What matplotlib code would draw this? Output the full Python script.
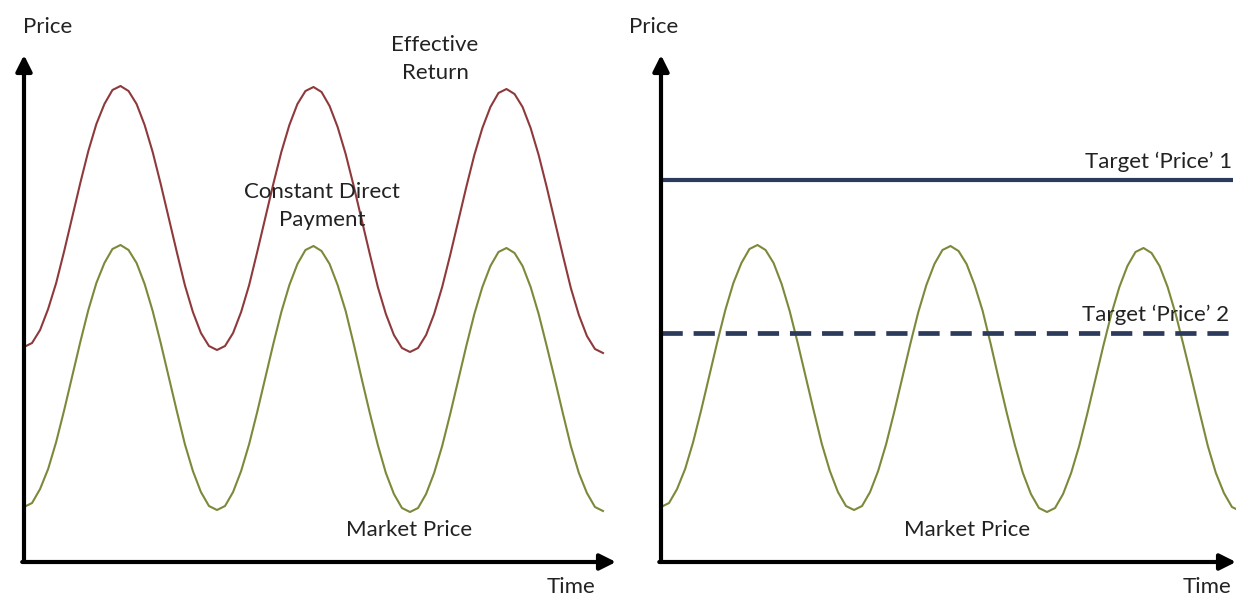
import matplotlib
matplotlib.use('Agg')
import matplotlib.pyplot as plt
import numpy as np

plt.rcParams['font.family'] = ['Lato', 'DejaVu Sans']

# time in "cycles" of the market price, sampled every 1/24 of a cycle
time = np.arange(73) / 24

market_price = [
    5.5, 5.9, 7.3, 9.3, 12.0, 15.2, 18.6, 22.0, 25.2, 27.9, 29.9, 31.3, 31.7,
    31.2, 29.9, 27.8, 25.1, 21.9, 18.5, 15.1, 11.8, 9.1, 7.0, 5.6, 5.2,
    5.6, 7.0, 9.1, 11.8, 15.0, 18.4, 21.8, 25.0, 27.7, 29.8, 31.2, 31.6,
    31.1, 29.8, 27.7, 25.1, 21.8, 18.3, 14.9, 11.7, 8.9, 6.8, 5.4, 5.0,
    5.4, 6.8, 8.9, 11.6, 14.8, 18.2, 21.6, 24.8, 27.5, 29.6, 31.0, 31.4,
    30.9, 29.6, 27.5, 24.8, 21.6, 18.3, 14.9, 11.6, 8.9, 6.9, 5.5, 5.1,
]

effective_return = [
    21.5, 21.9, 23.2, 25.3, 27.9, 31.1, 34.5, 37.9, 41.1, 43.8, 45.8, 47.2, 47.6,
    47.1, 45.8, 43.7, 41.0, 37.8, 34.4, 31.0, 27.7, 25.0, 22.9, 21.6, 21.2,
    21.6, 22.9, 25.0, 27.7, 31.0, 34.4, 37.8, 41.0, 43.7, 45.8, 47.1, 47.5,
    47.0, 45.6, 43.5, 40.8, 37.6, 34.2, 30.8, 27.5, 24.8, 22.7, 21.4, 21.0,
    21.4, 22.7, 24.8, 27.5, 30.7, 34.1, 37.5, 40.7, 43.4, 45.5, 46.9, 47.3,
    46.8, 45.5, 43.4, 40.7, 37.5, 34.1, 30.7, 27.4, 24.7, 22.6, 21.3, 20.9,
]

target_price_1 = 38.2
target_price_2 = 22.9

RED = '#8e3a3c'
GREEN = '#7b8a3a'
NAVY = '#2c3b5c'
TEXT = '#222222'

W, H = 1236, 597
fig = plt.figure(figsize=(W / 100, H / 100), dpi=100)
fig.patch.set_facecolor('white')


def px_axes(x0, x1, y_top, y_bot):
    return fig.add_axes([x0 / W, (H - y_bot) / H, (x1 - x0) / W, (y_bot - y_top) / H])


def draw_axes_arrows(ax):
    props = dict(arrowstyle='-|>', lw=3, color='black', mutation_scale=24,
                 shrinkA=0, shrinkB=0)
    ax.annotate('', xy=(0, 1), xytext=(0, 0), xycoords='axes fraction',
                arrowprops=props, annotation_clip=False)
    ax.annotate('', xy=(1, 0), xytext=(-0.003, 0), xycoords='axes fraction',
                arrowprops=props, annotation_clip=False)


# ---- left panel: market price + constant direct payment
ax1 = px_axes(24, 616, 55, 562)
ax1.set_xlim(0, 592 / 193)
ax1.set_ylim(0, 50.7)
ax1.axis('off')
ax1.plot(time, effective_return, color=RED, lw=1.5)
ax1.plot(time, market_price, color=GREEN, lw=1.5)
draw_axes_arrows(ax1)

fs = 16
ax1.text(0.12, 53.5, 'Price', ha='center', va='center', fontsize=fs, color=TEXT)
ax1.text(2.13, 50.3, 'Effective\nReturn', ha='center', va='center', fontsize=fs,
         color=TEXT, linespacing=1.45)
ax1.text(1.545, 35.6, 'Constant Direct\nPayment', ha='center', va='center', fontsize=fs,
         color=TEXT, linespacing=1.45)
ax1.text(1.995, 3.2, 'Market Price', ha='center', va='center', fontsize=fs, color=TEXT)
ax1.text(2.835, -2.5, 'Time', ha='center', va='center', fontsize=fs, color=TEXT)

# ---- right panel: market price vs target prices
ax2 = px_axes(661, 1236, 55, 562)
ax2.set_xlim(0, 575 / 193)
ax2.set_ylim(0, 50.7)
ax2.axis('off')
ax2.plot(time, market_price, color=GREEN, lw=1.5)
ax2.hlines(target_price_1, 0, 2.965, color=NAVY, lw=3)
ax2.hlines(target_price_2, 0, 2.965, color=NAVY, lw=3.4, linestyles=(0, (4.5, 2.3)))
draw_axes_arrows(ax2)

ax2.text(-0.036, 53.5, 'Price', ha='center', va='center', fontsize=fs, color=TEXT)
ax2.text(2.958, 40.0, 'Target \u2018Price\u2019 1', ha='right', va='center', fontsize=fs, color=TEXT)
ax2.text(2.943, 24.7, 'Target \u2018Price\u2019 2', ha='right', va='center', fontsize=fs, color=TEXT)
ax2.text(1.585, 3.2, 'Market Price', ha='center', va='center', fontsize=fs, color=TEXT)
ax2.text(2.83, -2.5, 'Time', ha='center', va='center', fontsize=fs, color=TEXT)

fig.savefig('out.png', dpi=100, facecolor='white')
